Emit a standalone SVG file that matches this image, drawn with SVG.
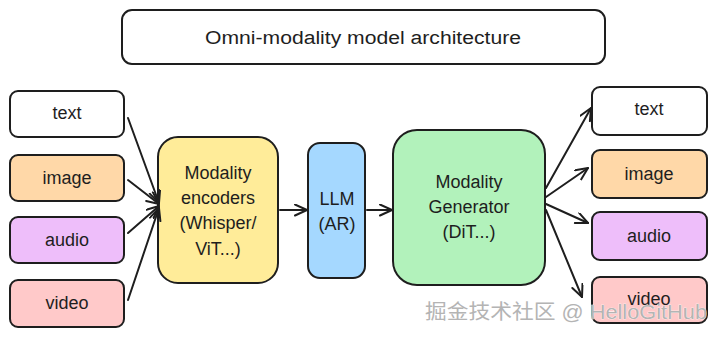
<svg xmlns="http://www.w3.org/2000/svg" width="717" height="338" viewBox="0 0 717 338">
<defs>
<style>
.box{stroke:#1e1e1e;stroke-width:2;}
.lbl{font-family:"Liberation Sans",Arial,sans-serif;font-size:18px;fill:#1e1e1e;text-anchor:middle;dominant-baseline:central;}
.conn{stroke:#1e1e1e;stroke-width:2;fill:none;marker-end:url(#ah);stroke-linecap:round;}
.wm{font-family:"Liberation Sans","Noto Sans CJK SC",sans-serif;font-size:20px;fill:#b4b4b4;stroke:#ffffff;stroke-width:0.6;paint-order:stroke;}
</style>
<marker id="ah" markerUnits="userSpaceOnUse" markerWidth="16" markerHeight="14" refX="13" refY="6" orient="auto">
<path d="M1,0.5 L13,6 L1,11.5" fill="none" stroke="#1e1e1e" stroke-width="2" stroke-linecap="round" stroke-linejoin="round"/>
</marker>
</defs>
<rect width="717" height="338" fill="#ffffff"/>
<g id="title">
<rect class="box" x="122" y="10" width="483" height="54" rx="10" fill="#ffffff"/>
<text class="lbl" x="363" y="38" textLength="316" lengthAdjust="spacingAndGlyphs">Omni-modality model architecture</text>
</g>
<g id="in-text"><rect class="box" x="10" y="91" width="114" height="46" rx="8" fill="#ffffff"/><text class="lbl" x="67" y="113">text</text></g>
<g id="in-image"><rect class="box" x="10" y="155" width="114" height="46" rx="8" fill="#ffd8a8"/><text class="lbl" x="67" y="178">image</text></g>
<g id="in-audio"><rect class="box" x="10" y="217" width="114" height="46" rx="8" fill="#eebefa"/><text class="lbl" x="67" y="240">audio</text></g>
<g id="in-video"><rect class="box" x="10" y="280" width="114" height="47" rx="8" fill="#ffc9c9"/><text class="lbl" x="67" y="303">video</text></g>
<g id="encoders"><rect class="box" x="158" y="137" width="120" height="146" rx="20" fill="#ffec99"/>
<text class="lbl" x="218" y="173">Modality</text><text class="lbl" x="218" y="198">encoders</text><text class="lbl" x="218" y="223">(Whisper/</text><text class="lbl" x="218" y="249">ViT...)</text></g>
<g id="llm"><rect class="box" x="308" y="143" width="57" height="135" rx="12" fill="#a5d8ff"/>
<text class="lbl" x="337" y="199">LLM</text><text class="lbl" x="337" y="224">(AR)</text></g>
<g id="generator"><rect class="box" x="393" y="130" width="152" height="155" rx="24" fill="#b2f2bb"/>
<text class="lbl" x="469" y="182">Modality</text><text class="lbl" x="469" y="207">Generator</text><text class="lbl" x="469" y="232">(DiT...)</text></g>
<g id="out-text"><rect class="box" x="592" y="87" width="115" height="48" rx="8" fill="#ffffff"/><text class="lbl" x="649" y="109">text</text></g>
<g id="out-image"><rect class="box" x="592" y="150" width="115" height="48" rx="8" fill="#ffd8a8"/><text class="lbl" x="649" y="174">image</text></g>
<g id="out-audio"><rect class="box" x="592" y="212" width="115" height="48" rx="8" fill="#eebefa"/><text class="lbl" x="649" y="236">audio</text></g>
<g id="out-video"><rect class="box" x="592" y="277" width="115" height="46" rx="8" fill="#ffc9c9"/><text class="lbl" x="649" y="299">video</text></g>
<g id="connectors">
<path class="conn" d="M128,118 L159,203"/>
<path class="conn" d="M128,180 L159,204"/>
<path class="conn" d="M128,233 L159,206"/>
<path class="conn" d="M128,300 L159,208"/>
<path class="conn" d="M280,210 L307,210"/>
<path class="conn" d="M367,210 L392,210"/>
<path class="conn" d="M546,188 L591,108"/>
<path class="conn" d="M546,197 L588,168"/>
<path class="conn" d="M546,204 L588,223"/>
<path class="conn" d="M546,210 L582,297"/>
</g>
<text class="wm" x="425" y="319" textLength="282" lengthAdjust="spacingAndGlyphs">掘金技术社区 @ HelloGitHub</text>
</svg>
